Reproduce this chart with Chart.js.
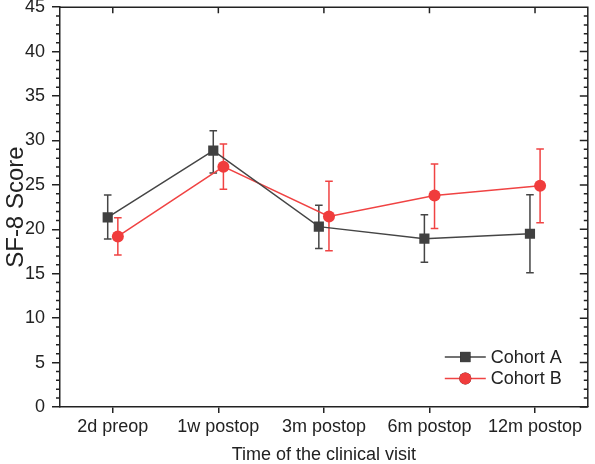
<!DOCTYPE html>
<html>
<head>
<meta charset="utf-8">
<script src="https://cdn.jsdelivr.net/npm/chart.js@4/dist/chart.umd.min.js"></script>
<style>
  html, body { margin: 0; padding: 0; background: #fff; }
  #wrap { width: 595px; height: 464px; }
</style>
</head>
<body>
<div id="wrap"><canvas id="sf8-chart"></canvas></div>
<script>
// visit times on the x axis
var visits = ['2d preop', '1w postop', '3m postop', '6m postop', '12m postop'];

// Cohort A: mean and error bar ends
var cohortA = [21.35, 28.85, 20.3, 18.95, 19.5];
var cohortAHigh = [23.85, 31.1, 22.7, 21.65, 23.9];
var cohortALow = [18.9, 26.35, 17.85, 16.3, 15.1];

// Cohort B: mean and error bar ends
var cohortB = [19.2, 27.05, 21.45, 23.8, 24.9];
var cohortBHigh = [21.3, 29.6, 25.4, 27.35, 29.05];
var cohortBLow = [17.1, 24.5, 17.6, 20.1, 20.75];

// y axis range and tick step
var yMin = 0;
var yMax = 45;
var yStep = 5;

var axisColor = '#222222';
var fontFamily = '"Liberation Sans", Arial, Helvetica, sans-serif';

(function() {
    'use strict';

    // error bars are drawn before the lines so that markers sit on top
    var errorBarPlugin = {
        id: 'errorBars',
        beforeDatasetsDraw: function(chart) {
            var ctx = chart.ctx;
            var yScale = chart.scales.y;
            chart.data.datasets.forEach(function(dataset, di) {
                var meta = chart.getDatasetMeta(di);
                ctx.save();
                ctx.strokeStyle = dataset.borderColor;
                ctx.lineWidth = 1.5;
                meta.data.forEach(function(point, i) {
                    var top = yScale.getPixelForValue(dataset.errHigh[i]);
                    var bottom = yScale.getPixelForValue(dataset.errLow[i]);
                    var half = 3.8;
                    ctx.beginPath();
                    ctx.moveTo(point.x, top);
                    ctx.lineTo(point.x, bottom);
                    ctx.moveTo(point.x - half, top);
                    ctx.lineTo(point.x + half, top);
                    ctx.moveTo(point.x - half, bottom);
                    ctx.lineTo(point.x + half, bottom);
                    ctx.stroke();
                });
                ctx.restore();
            });
        }
    };

    // top / right border, minor ticks and the inward ticks on the mirrored axes
    var framePlugin = {
        id: 'frame',
        afterDraw: function(chart) {
            var ctx = chart.ctx;
            var area = chart.chartArea;
            var xScale = chart.scales.x;
            var yScale = chart.scales.y;
            ctx.save();
            ctx.strokeStyle = axisColor;
            ctx.lineWidth = 1.5;
            ctx.beginPath();
            ctx.moveTo(area.left, area.top);
            ctx.lineTo(area.right, area.top);
            ctx.lineTo(area.right, area.bottom);
            for (var v = yMin; v <= yMax; v++) {
                var py = yScale.getPixelForValue(v);
                var major = v % yStep === 0;
                if (!major) {
                    ctx.moveTo(area.left - 4, py);
                    ctx.lineTo(area.left, py);
                }
                ctx.moveTo(area.right - (major ? 8 : 4), py);
                ctx.lineTo(area.right, py);
            }
            visits.forEach(function(label, i) {
                var px = xScale.getPixelForValue(i);
                ctx.moveTo(px, area.top);
                ctx.lineTo(px, area.top + 6);
            });
            ctx.stroke();
            ctx.restore();
        }
    };

    // legend inside the plot, bottom right, line + marker like the original
    var legendPlugin = {
        id: 'insideLegend',
        afterDraw: function(chart) {
            var ctx = chart.ctx;
            var area = chart.chartArea;
            ctx.save();
            ctx.font = '18px ' + fontFamily;
            ctx.textBaseline = 'middle';
            chart.data.datasets.forEach(function(dataset, i) {
                var y = area.bottom - 50 + i * 21.5;
                var x0 = area.right - 143;
                var x1 = area.right - 102;
                ctx.strokeStyle = dataset.borderColor;
                ctx.lineWidth = 1.5;
                ctx.beginPath();
                ctx.moveTo(x0, y);
                ctx.lineTo(x1, y);
                ctx.stroke();
                Chart.helpers.drawPoint(ctx, {
                    pointStyle: dataset.pointStyle,
                    radius: dataset.pointRadius,
                    borderWidth: 0
                }, (x0 + x1) / 2, y);
                ctx.fillStyle = dataset.pointBackgroundColor;
                ctx.fill();
                ctx.fillStyle = axisColor;
                ctx.fillText(dataset.label, area.right - 97, y + 1);
            });
            ctx.restore();
        }
    };

    function toPoints(values, shift) {
        return values.map(function(v, i) {
            return { x: i + shift, y: v };
        });
    }

    var context = document.getElementById('sf8-chart').getContext('2d');
    var chart = new Chart(context, {
        type: 'line',
        data: {
            datasets: [
                {
                    label: 'Cohort A',
                    data: toPoints(cohortA, -0.048),
                    errHigh: cohortAHigh,
                    errLow: cohortALow,
                    borderColor: '#454545',
                    borderWidth: 1.5,
                    pointStyle: 'rect',
                    pointRadius: 7.2,
                    pointBackgroundColor: '#404040',
                    pointBorderWidth: 0,
                    tension: 0
                },
                {
                    label: 'Cohort B',
                    data: toPoints(cohortB, 0.048),
                    errHigh: cohortBHigh,
                    errLow: cohortBLow,
                    borderColor: '#f04343',
                    borderWidth: 1.5,
                    pointStyle: 'circle',
                    pointRadius: 6,
                    pointBackgroundColor: '#f03c3c',
                    pointBorderWidth: 0,
                    tension: 0
                }
            ]
        },
        options: {
            responsive: true,
            maintainAspectRatio: false,
            animation: false,
            layout: {
                padding: { top: 7, right: 1, left: 0, bottom: 0 }
            },
            plugins: {
                legend: { display: false },
                tooltip: { enabled: false }
            },
            scales: {
                x: {
                    type: 'linear',
                    min: -0.5,
                    max: visits.length - 0.5,
                    afterBuildTicks: function(scale) {
                        scale.ticks = visits.map(function(label, i) {
                            return { value: i };
                        });
                    },
                    afterFit: function(scale) {
                        scale.height = 57;
                        scale.paddingLeft = 0;
                        scale.paddingRight = 0;
                    },
                    ticks: {
                        autoSkip: false,
                        maxRotation: 0,
                        padding: 3,
                        color: axisColor,
                        font: { family: fontFamily, size: 18 },
                        callback: function(value) {
                            return visits[value];
                        }
                    },
                    grid: {
                        drawOnChartArea: false,
                        drawTicks: true,
                        tickLength: 6,
                        color: axisColor,
                        lineWidth: 1.5
                    },
                    border: { display: true, color: axisColor, width: 1.5 },
                    title: {
                        display: true,
                        text: 'Time of the clinical visit',
                        color: axisColor,
                        font: { family: fontFamily, size: 18, lineHeight: 1 },
                        padding: { top: 0, bottom: 0 }
                    }
                },
                y: {
                    min: yMin,
                    max: yMax,
                    afterFit: function(scale) {
                        scale.width = 60;
                        scale.paddingTop = 0;
                        scale.paddingBottom = 0;
                    },
                    ticks: {
                        stepSize: yStep,
                        padding: 7,
                        color: axisColor,
                        font: { family: fontFamily, size: 18 }
                    },
                    grid: {
                        drawOnChartArea: false,
                        drawTicks: true,
                        tickLength: 8,
                        color: axisColor,
                        lineWidth: 1.5
                    },
                    border: { display: true, color: axisColor, width: 1.5 },
                    title: {
                        display: true,
                        text: 'SF-8 Score',
                        color: axisColor,
                        font: { family: fontFamily, size: 24, lineHeight: 1.2 },
                        padding: { top: 2, bottom: 0 }
                    }
                }
            }
        },
        plugins: [errorBarPlugin, framePlugin, legendPlugin]
    });
})();
</script>
</body>
</html>
